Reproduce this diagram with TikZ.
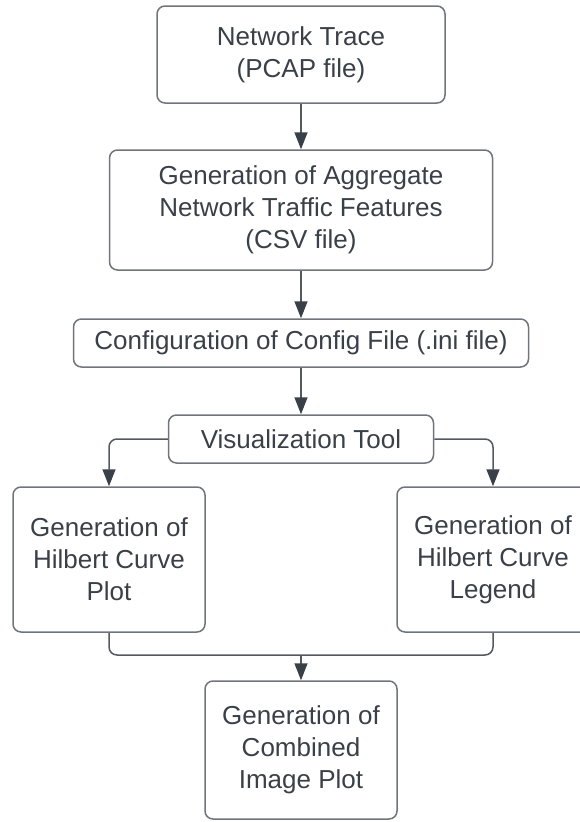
\documentclass[tikz,border=0pt]{standalone}
\usepackage{fontspec}
\setmainfont{Liberation Sans}
\usetikzlibrary{arrows.meta}

\definecolor{inkgray}{RGB}{58,64,72}
\definecolor{edgegray}{RGB}{112,117,124}
\definecolor{linegray}{RGB}{84,89,96}

\begin{document}
\begin{tikzpicture}[
  x=1pt, y=-1pt,
  >={Triangle[width=13pt,length=17pt,color=inkgray]},
  every node/.style={font=\fontsize{26}{32}\selectfont, text=inkgray},
  stage/.style={draw=edgegray, line width=1.5pt, rounded corners=8pt,
    align=center, inner sep=0pt},
  flow/.style={linegray, line width=1.5pt, rounded corners=8pt, ->},
  link/.style={linegray, line width=1.5pt, rounded corners=8pt}
]
\useasboundingbox (0,0) rectangle (580,822);

% ------------------------------------------------------------
% Pipeline stages
% ------------------------------------------------------------
\node[stage, minimum width=288pt, minimum height=97pt] (trace) at (301,54.5)
  {Network Trace\\(PCAP file)};
\node[stage, minimum width=383pt, minimum height=120pt] (features) at (301,210)
  {Generation of Aggregate\\Network Traffic Features\\(CSV file)};
\node[stage, minimum width=455pt, minimum height=48pt] (config) at (301,343)
  {Configuration of Config File (.ini file)};
\node[stage, minimum width=265pt, minimum height=48pt] (vis) at (301,439)
  {Visualization Tool};

% two branches out of the tool
\node[stage, minimum width=192pt, minimum height=145pt] (hplot) at (109,559.5)
  {Generation of\\Hilbert Curve\\Plot};
\node[stage, minimum width=192pt, minimum height=145pt] (hlegend) at (493,559.5)
  {Generation of\\Hilbert Curve\\Legend};

% merged result
\node[stage, minimum width=192pt, minimum height=138pt] (combined) at (301,750)
  {Generation of\\Combined\\Image Plot};
\coordinate (join) at (301,655);

% ------------------------------------------------------------
% Connectors
% ------------------------------------------------------------
\draw[flow] (trace) -- (features);
\draw[flow] (features) -- (config);
\draw[flow] (config) -- (vis);
\draw[flow] (vis) -| (hplot);
\draw[flow] (vis) -| (hlegend);
\draw[link] (hplot) |- (join) -| (hlegend);
\draw[flow] (join) -- (combined);

\end{tikzpicture}
\end{document}
